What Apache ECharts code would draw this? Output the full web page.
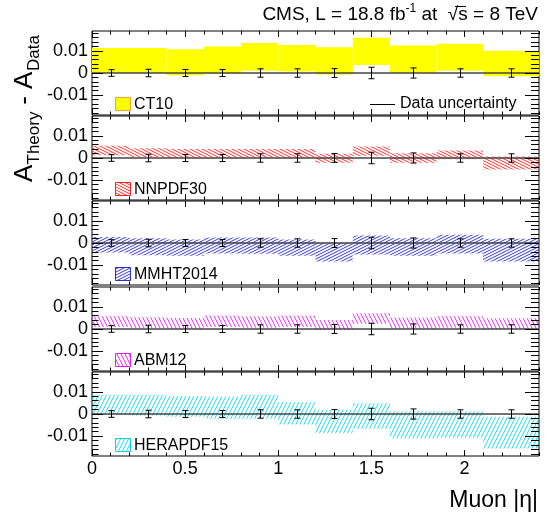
<!DOCTYPE html>
<html><head><meta charset="utf-8">
<script src="https://cdn.jsdelivr.net/npm/echarts@6/dist/echarts.min.js"></script>
<style>html,body{margin:0;padding:0;background:#fff}#c{width:549px;height:512px}</style>
</head><body><div id="c"></div>
<script>
// ---- data ----
const binEdges   = [0, 0.2, 0.4, 0.6, 0.8, 1.0, 1.2, 1.4, 1.6, 1.85, 2.1, 2.4];
const binCenters = [0.1, 0.3, 0.5, 0.7, 0.9, 1.1, 1.3, 1.5, 1.725, 1.975, 2.25];
const dataUnc    = [0.0015, 0.0017, 0.0016, 0.0016, 0.0019, 0.0019, 0.0020, 0.0026, 0.0023, 0.0019, 0.0019];
const ct10Lo  = [0.0000, 0.0000, -0.0010, -0.0003, 0.0010, 0.0007, -0.0007, 0.0036, 0.0001, 0.0010, -0.0015];
const ct10Hi  = [0.0113, 0.0113, 0.0107, 0.0120, 0.0136, 0.0127, 0.0117, 0.0160, 0.0124, 0.0132, 0.0101];
const nnpdfLo = [0.0012, 0.0004, 0.0001, 0.0001, 0.0001, 0.0000, -0.0022, 0.0010, -0.0021, -0.0006, -0.0052];
const nnpdfHi = [0.0055, 0.0044, 0.0041, 0.0041, 0.0041, 0.0041, 0.0019, 0.0052, 0.0022, 0.0034, 0.0007];
const mmhtLo  = [-0.0043, -0.0055, -0.0058, -0.0047, -0.0049, -0.0058, -0.0084, -0.0052, -0.0058, -0.0047, -0.0084];
const mmhtHi  = [0.0027, 0.0022, 0.0016, 0.0025, 0.0025, 0.0016, 0.0001, 0.0034, 0.0022, 0.0037, 0.0019];
const abmLo   = [0.0009, 0.0004, 0.0001, 0.0009, 0.0006, 0.0009, -0.0003, 0.0024, 0.0001, 0.0006, 0.0000];
const abmHi   = [0.0058, 0.0053, 0.0050, 0.0061, 0.0056, 0.0061, 0.0041, 0.0071, 0.0052, 0.0058, 0.0049];
const heraLo  = [-0.0003, -0.0007, -0.0013, -0.0022, -0.0021, -0.0047, -0.0087, -0.0067, -0.0111, -0.0107, -0.0156];
const heraHi  = [0.0086, 0.0086, 0.0081, 0.0079, 0.0086, 0.0053, 0.0019, 0.0049, 0.0012, 0.0012, -0.0013];
const pdfNames = ['CT10', 'NNPDF30', 'MMHT2014', 'ABM12', 'HERAPDF15'];
const xTickLabels = [0, 0.5, 1, 1.5, 2];
const yTickLabels = [-0.01, 0, 0.01];

// ---- styling / layout ----
const FONT = 'Liberation Sans, Arial, Helvetica, sans-serif';
const L = 92, R = 539, TOPS = [31, 116, 201, 287, 372], PH = 84;
const X_MIN = 0, X_MAX = 2.4, Y_MIN = -0.019, Y_MAX = 0.019;

function makeHatch(color, dir, steep) {
  const c = document.createElement('canvas');
  const W = steep ? 4 : 12, H = steep ? 8 : 6;
  c.width = W; c.height = H;
  const g = c.getContext('2d');
  g.strokeStyle = color; g.lineWidth = 1;
  g.beginPath();
  if (!steep) {
    for (let s = -2 * H; s <= 2 * H; s += 3) {
      if (dir > 0) { g.moveTo(0, s); g.lineTo(W, s + H); }
      else { g.moveTo(0, s + H); g.lineTo(W, s); }
    }
  } else {
    for (let s = -2 * W; s <= 2 * W; s += W) {
      if (dir > 0) { g.moveTo(s, 0); g.lineTo(s + W, H); }
      else { g.moveTo(s + W, 0); g.lineTo(s, H); }
    }
  }
  g.stroke();
  return { image: c, repeat: 'repeat' };
}

const styles = [
  { fill: '#ffff00', border: '#f5a030' },
  { fill: makeHatch('#ff3030', 1, false), border: '#ff2020' },
  { fill: makeHatch('#3a3ad0', -1, false), border: '#3030c8' },
  { fill: makeHatch('#e030f0', 1, true), border: '#dd20ee' },
  { fill: makeHatch('#20dcee', -1, true), border: '#10d0e8' }
];
const bandsLo = [ct10Lo, nnpdfLo, mmhtLo, abmLo, heraLo];
const bandsHi = [ct10Hi, nnpdfHi, mmhtHi, abmHi, heraHi];

const xMinor = [], yMinor = [];
for (let k = 0; k <= 24; k++) { if (k % 5 !== 0) xMinor.push(+(k * 0.1).toFixed(2)); }
for (let k = -9; k <= 9; k++) { if (k % 5 !== 0) yMinor.push(+(k * 0.002).toFixed(4)); }

const grids = [], xAxes = [], yAxes = [], series = [], graphics = [];

for (let i = 0; i < 5; i++) {
  grids.push({ left: L, width: R - L, top: TOPS[i], height: PH, show: true,
    borderColor: '#000', borderWidth: 1, backgroundColor: 'rgba(0,0,0,0)' });
  const bx = { type: 'value', gridIndex: i, min: X_MIN, max: X_MAX, z: 6,
    splitLine: { show: false }, axisLine: { show: false, onZero: false }, axisLabel: { show: false } };
  const tk = (len, vals) => ({ show: true, inside: true, length: len, customValues: vals, lineStyle: { color: '#000', width: 1 } });
  xAxes.push(Object.assign({}, bx, { position: 'bottom', axisTick: tk(6, xTickLabels),
    axisLabel: i === 4 ? { show: true, customValues: xTickLabels, fontSize: 18, fontFamily: FONT, color: '#000', margin: 4,
      formatter: v => String(v) } : { show: false } }));
  xAxes.push(Object.assign({}, bx, { position: 'bottom', axisTick: tk(3.5, xMinor) }));
  xAxes.push(Object.assign({}, bx, { position: 'top', axisTick: tk(6, xTickLabels) }));
  xAxes.push(Object.assign({}, bx, { position: 'top', axisTick: tk(3.5, xMinor) }));

  const by = { type: 'value', gridIndex: i, min: Y_MIN, max: Y_MAX, z: 6,
    splitLine: { show: false }, axisLine: { show: false, onZero: false }, axisLabel: { show: false } };
  yAxes.push(Object.assign({}, by, { position: 'left', axisTick: tk(11, yTickLabels),
    axisLabel: { show: true, customValues: yTickLabels, fontSize: 18, fontFamily: FONT, color: '#000', margin: 4,
      formatter: v => (Math.abs(v) < 1e-9 ? '0' : v.toFixed(2)) } }));
  yAxes.push(Object.assign({}, by, { position: 'left', axisTick: tk(6.5, yMinor) }));
  yAxes.push(Object.assign({}, by, { position: 'right', axisTick: tk(14, yTickLabels) }));
  yAxes.push(Object.assign({}, by, { position: 'right', axisTick: tk(8, yMinor) }));

  const st = styles[i];
  const bandData = binEdges.slice(0, -1).map((e, k) => [e, binEdges[k + 1], bandsLo[i][k], bandsHi[i][k]]);
  series.push({
    type: 'custom', name: pdfNames[i], xAxisIndex: 4 * i, yAxisIndex: 4 * i, z: 1, silent: true,
    data: bandData,
    renderItem: (params, api) => {
      const p0 = api.coord([api.value(0), api.value(3)]);
      const p1 = api.coord([api.value(1), api.value(2)]);
      return { type: 'rect', shape: { x: p0[0], y: p0[1], width: p1[0] - p0[0], height: p1[1] - p0[1] },
        style: { fill: st.fill, stroke: null } };
    }
  });
  series.push({
    type: 'line', xAxisIndex: 4 * i, yAxisIndex: 4 * i, z: 3, silent: true, symbol: 'none',
    data: [[binEdges[0], 0], [binEdges[binEdges.length - 1], 0]],
    lineStyle: { color: '#444444', width: 1.6 }
  });
  series.push({
    type: 'custom', xAxisIndex: 4 * i, yAxisIndex: 4 * i, z: 4, silent: true,
    data: binCenters.map((c, k) => [c, dataUnc[k]]),
    renderItem: (params, api) => {
      const t = api.coord([api.value(0), api.value(1)]);
      const b = api.coord([api.value(0), -api.value(1)]);
      const x = Math.round(t[0]) + 0.5, cw = 3;
      const s = { stroke: '#000', lineWidth: 1 };
      return { type: 'group', children: [
        { type: 'line', shape: { x1: x, y1: t[1], x2: x, y2: b[1] }, style: s },
        { type: 'line', shape: { x1: x - cw, y1: t[1], x2: x + cw, y2: t[1] }, style: s },
        { type: 'line', shape: { x1: x - cw, y1: b[1], x2: x + cw, y2: b[1] }, style: s }
      ] };
    }
  });

  // legend box + label
  graphics.push({ type: 'rect', shape: { x: 115.5, y: TOPS[i] + 66.5, width: 15, height: 13 },
    style: { fill: st.fill, stroke: st.border, lineWidth: 1 }, z: 10 });
  graphics.push({ type: 'text', x: 134, y: TOPS[i] + 73.5,
    style: { text: pdfNames[i], fontSize: 16, fontFamily: FONT, fill: '#000', align: 'left', verticalAlign: 'middle' }, z: 10 });
}

// Data uncertainty legend (panel 1)
graphics.push({ type: 'line', shape: { x1: 370, y1: 104.5, x2: 395, y2: 104.5 }, style: { stroke: '#000', lineWidth: 1 }, z: 10 });
graphics.push({ type: 'text', x: 400, y: 104, style: { text: 'Data uncertainty', fontSize: 16, fontFamily: FONT, fill: '#000', align: 'left', verticalAlign: 'middle' }, z: 10 });

// title
graphics.push({ type: 'text', x: 538, y: 15, z: 10, style: {
  text: '{m|CMS, L = 18.8 fb}{s|-1}{m| at  √s = 8 TeV}', align: 'right', verticalAlign: 'middle',
  rich: { m: { fontSize: 19, fontFamily: FONT, fill: '#000', lineHeight: 24 },
          s: { fontSize: 12, fontFamily: FONT, fill: '#000', lineHeight: 24, verticalAlign: 'top' } } } });
// overline of the square root
graphics.push({ type: 'line', z: 10, shape: { x1: 455, y1: 6.5, x2: 466, y2: 6.5 }, style: { stroke: '#000', lineWidth: 1 } });

// x-axis title
graphics.push({ type: 'text', x: 538, y: 501, z: 10, style: { text: 'Muon |η|', fontSize: 23, fontFamily: FONT, fill: '#000', align: 'right', verticalAlign: 'middle' } });

// y-axis title (rotated)
graphics.push({ type: 'group', x: 25, y: 182, rotation: Math.PI / 2, z: 10, children: [
  { type: 'text', x: 0, y: 0, style: { text: 'A', fontSize: 26, fontFamily: FONT, fill: '#000', align: 'left', verticalAlign: 'middle' } },
  { type: 'text', x: 17.5, y: 9, style: { text: 'Theory', fontSize: 17, fontFamily: FONT, fill: '#000', align: 'left', verticalAlign: 'middle' } },
  { type: 'text', x: 70, y: 0, style: { text: ' - A', fontSize: 26, fontFamily: FONT, fill: '#000', align: 'left', verticalAlign: 'middle' } },
  { type: 'text', x: 111, y: 9, style: { text: 'Data', fontSize: 17, fontFamily: FONT, fill: '#000', align: 'left', verticalAlign: 'middle' } }
] });

const chart = echarts.init(document.getElementById('c'), null, { renderer: 'canvas' });
chart.setOption({
  animation: false,
  backgroundColor: '#fff',
  grid: grids, xAxis: xAxes, yAxis: yAxes, series: series, graphic: graphics
});
</script></body></html>
